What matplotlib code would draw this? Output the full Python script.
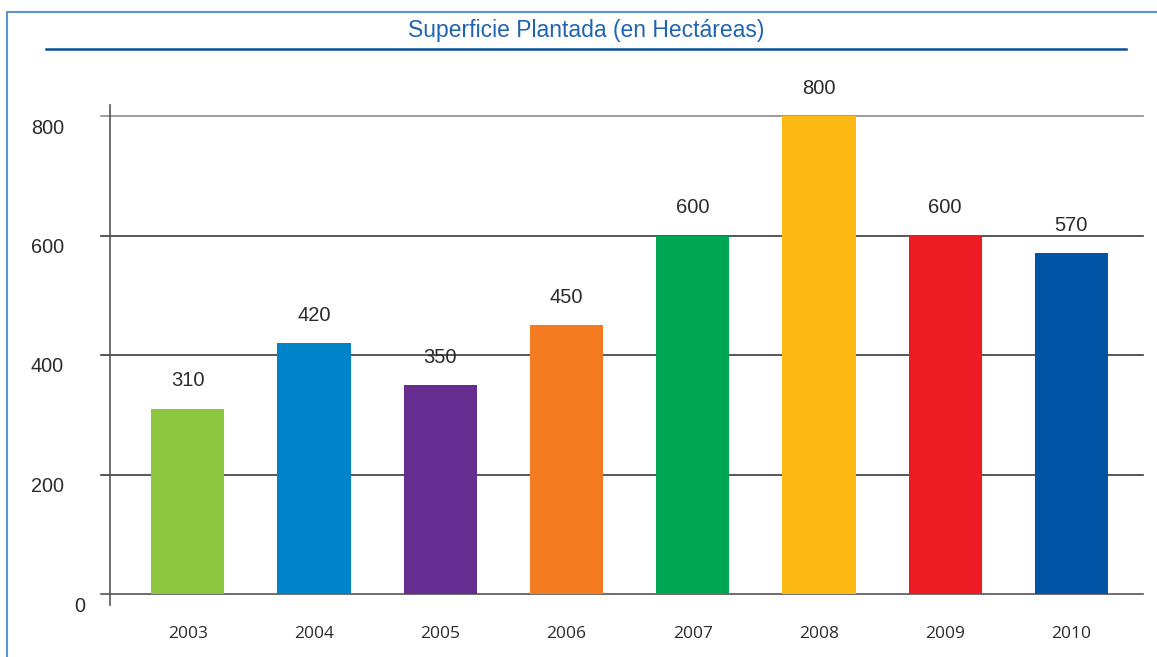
import matplotlib.pyplot as plt
from matplotlib.lines import Line2D
import matplotlib.transforms as mtransforms

# === Data ===
years = ["2003", "2004", "2005", "2006", "2007", "2008", "2009", "2010"]
hectares = [310, 420, 350, 450, 600, 800, 600, 570]
bar_colors = ["#8dc63f", "#0084c9", "#662d91", "#f47b20",
              "#00a651", "#fdb913", "#ed1c24", "#0054a6"]
yticks = [0, 200, 400, 600, 800]
title = "Superficie Plantada (en Hectáreas)"

W, H = 1157, 657
fig = plt.figure(figsize=(W / 100, H / 100), dpi=100)
ax = fig.add_axes([110 / W, 1 - 594 / H, 1033 / W, 478 / H])

x = range(len(years))
ax.bar(x, hectares, width=0.58, color=bar_colors, zorder=3)
ax.set_xlim(-0.615, 7.567)
ax.set_ylim(0, 800)

# value labels
for xi, v in zip(x, hectares):
    ax.annotate(str(v), (xi, v), xytext=(0, 20), textcoords="offset points",
                ha="center", va="center", fontsize=14.5, color="#2b2b2b",
                family="Liberation Sans")

# gridlines with short ticks to the left of the axis
for t in yticks:
    col = "#8c8c8c" if t == 800 else "#3a3a3a"
    if t == 0:
        col = "#555555"
    ax.axhline(t, xmin=-9 / 1033, xmax=1, color=col, lw=1.2,
               clip_on=False, zorder=2)

# vertical axis line extending a little above and below
ax.add_line(Line2D([0, 0], [-11 / 478, 1 + 11 / 478], transform=ax.transAxes,
                   color="#555555", lw=1.2, clip_on=False, zorder=4))

for s in ax.spines.values():
    s.set_visible(False)
ax.set_yticks([])
ax.set_xticks(list(x))
ax.set_xticklabels(years, fontsize=12.5, family="Open Sans", color="#2b2b2b")
ax.tick_params(axis="x", length=0, pad=23)

# y tick labels, sitting slightly below their gridlines
trans = mtransforms.blended_transform_factory(fig.transFigure, ax.transData)
for t in yticks:
    xr = 85 / W if t == 0 else 64 / W
    lbl = ax.text(xr, t, str(t), transform=trans, ha="right", va="center",
                  fontsize=14.3, color="#2b2b2b", family="Liberation Sans")
    lbl.set_transform(trans + mtransforms.ScaledTranslation(0, -12 / 100, fig.dpi_scale_trans))

# title and rule under it
fig.text(586 / W, 1 - 31 / H, title, ha="center", va="center",
         fontsize=16.5, color="#1f64b0", family="Liberation Sans")
fig.add_artist(Line2D([46 / W, 1126 / W], [1 - 49 / H, 1 - 49 / H],
                      transform=fig.transFigure, color="#0b4f9c", lw=1.8))

# frame (left and top edges of a box)
fig.add_artist(Line2D([7 / W, 7 / W, 1.0], [0, 1 - 12 / H, 1 - 12 / H],
                      transform=fig.transFigure, color="#5b93d0", lw=1.5))

fig.savefig("out.png", dpi=100)
